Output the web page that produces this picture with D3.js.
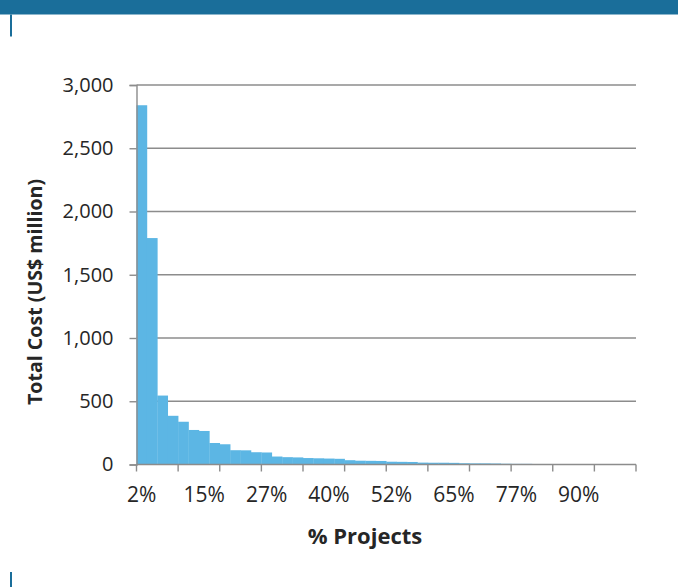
<!DOCTYPE html>
<html>
<head>
<meta charset="utf-8">
<script src="https://cdn.jsdelivr.net/npm/d3@7"></script>
<style>
  html, body { margin: 0; padding: 0; background: #ffffff; }
  svg { display: block; }
  text { font-family: "Open Sans", "Noto Sans", sans-serif; fill: #262626; }
</style>
</head>
<body>
<svg id="chart" width="678" height="587"></svg>
<script>
// Share of projects (cumulative position of each bin)
const categories = [
  "2%","4%","6%","8%","10%","13%","15%","17%","19%","21%","23%","25%",
  "27%","29%","31%","33%","35%","38%","40%","42%","44%","46%","48%","50%",
  "52%","54%","56%","58%","60%","63%","65%","67%","69%","71%","73%","75%",
  "77%","79%","81%","83%","85%","88%","90%","92%","94%","96%","98%","100%"
];

// Total cost per bin, US$ million
const totalCost = [
  2840, 1790, 545, 385, 338, 273, 265, 170, 160, 113, 112, 97,
  95, 63, 58, 56, 51, 49, 47, 45, 34, 30, 29, 28,
  22, 21, 20, 15, 14, 14, 13, 10, 9, 9, 8, 6,
  5, 5, 4, 4, 3, 3, 2, 2, 2, 1, 1, 1
];

const yTicks = [0, 500, 1000, 1500, 2000, 2500, 3000];
// categories that carry a label and positions that carry a tick mark
const labelledCategories = ["2%", "15%", "27%", "40%", "52%", "65%", "77%", "90%"];
const tickEvery = 4;

const svg = d3.select("#chart");
const plot = { left: 136.5, right: 636, top: 85, bottom: 464.5 };
const gridColor = "#8c8c8c";
const barColor = "#5cb6e4";
const brand = "#1a6e9a";

// page furniture: header band and side markers
svg.append("rect").attr("x", 0).attr("y", 0).attr("width", 678).attr("height", 14.5).attr("fill", brand);
svg.append("rect").attr("x", 10).attr("y", 14.5).attr("width", 2).attr("height", 22).attr("fill", brand);
svg.append("rect").attr("x", 10).attr("y", 572).attr("width", 2).attr("height", 15).attr("fill", brand);

const x = d3.scaleBand().domain(categories).range([plot.left, plot.right]).padding(0);
const y = d3.scaleLinear().domain([0, 3000]).range([plot.bottom, plot.top]);

// horizontal gridlines
svg.append("g")
  .selectAll("line")
  .data(yTicks.filter(d => d > 0))
  .join("line")
  .attr("x1", plot.left).attr("x2", plot.right)
  .attr("y1", d => y(d)).attr("y2", d => y(d))
  .attr("stroke", gridColor).attr("stroke-width", 1.4);

// columns, no gap between them
svg.append("g")
  .selectAll("rect")
  .data(categories.map((c, i) => ({ c, v: totalCost[i] })))
  .join("rect")
  .attr("x", d => x(d.c))
  .attr("width", x.bandwidth() + 0.3)
  .attr("y", d => y(d.v))
  .attr("height", d => y(0) - y(d.v))
  .attr("fill", barColor);

// y axis
const yAxis = svg.append("g").attr("transform", `translate(${plot.left},0)`)
  .call(d3.axisLeft(y).tickValues(yTicks).tickFormat(d3.format(",")).tickSize(7).tickPadding(16));
yAxis.select(".domain").attr("stroke", gridColor).attr("stroke-width", 1.4);
yAxis.selectAll(".tick line").attr("stroke", gridColor).attr("stroke-width", 1.4);
yAxis.selectAll(".tick text")
  .style("font-family", "'Open Sans', sans-serif")
  .style("font-size", "20px")
  .attr("fill", "#262626");

// x axis: baseline, tick marks at bin boundaries, labels under selected bins
const xg = svg.append("g");
xg.append("line")
  .attr("x1", plot.left).attr("x2", plot.right)
  .attr("y1", y(0)).attr("y2", y(0))
  .attr("stroke", gridColor).attr("stroke-width", 1.4);

const boundaries = d3.range(0, categories.length + 1, tickEvery)
  .map(k => k < categories.length ? x(categories[k]) : x.range()[1]);
xg.selectAll("line.tick")
  .data(boundaries)
  .join("line")
  .attr("class", "tick")
  .attr("x1", d => d).attr("x2", d => d)
  .attr("y1", y(0)).attr("y2", y(0) + 7)
  .attr("stroke", gridColor).attr("stroke-width", 1.4);

xg.selectAll("text")
  .data(labelledCategories)
  .join("text")
  .attr("x", d => x(d) + x.bandwidth() / 2)
  .attr("y", 502)
  .attr("text-anchor", "middle")
  .style("font-size", "21px")
  .text(d => d);

// axis titles
svg.append("text")
  .attr("transform", "translate(42,292) rotate(-90)")
  .attr("text-anchor", "middle")
  .style("font-size", "19.6px")
  .style("font-weight", "700")
  .text("Total Cost (US$ million)");

svg.append("text")
  .attr("x", 365)
  .attr("y", 544)
  .attr("text-anchor", "middle")
  .style("font-size", "22px")
  .style("font-weight", "700")
  .text("% Projects");
</script>
</body>
</html>
